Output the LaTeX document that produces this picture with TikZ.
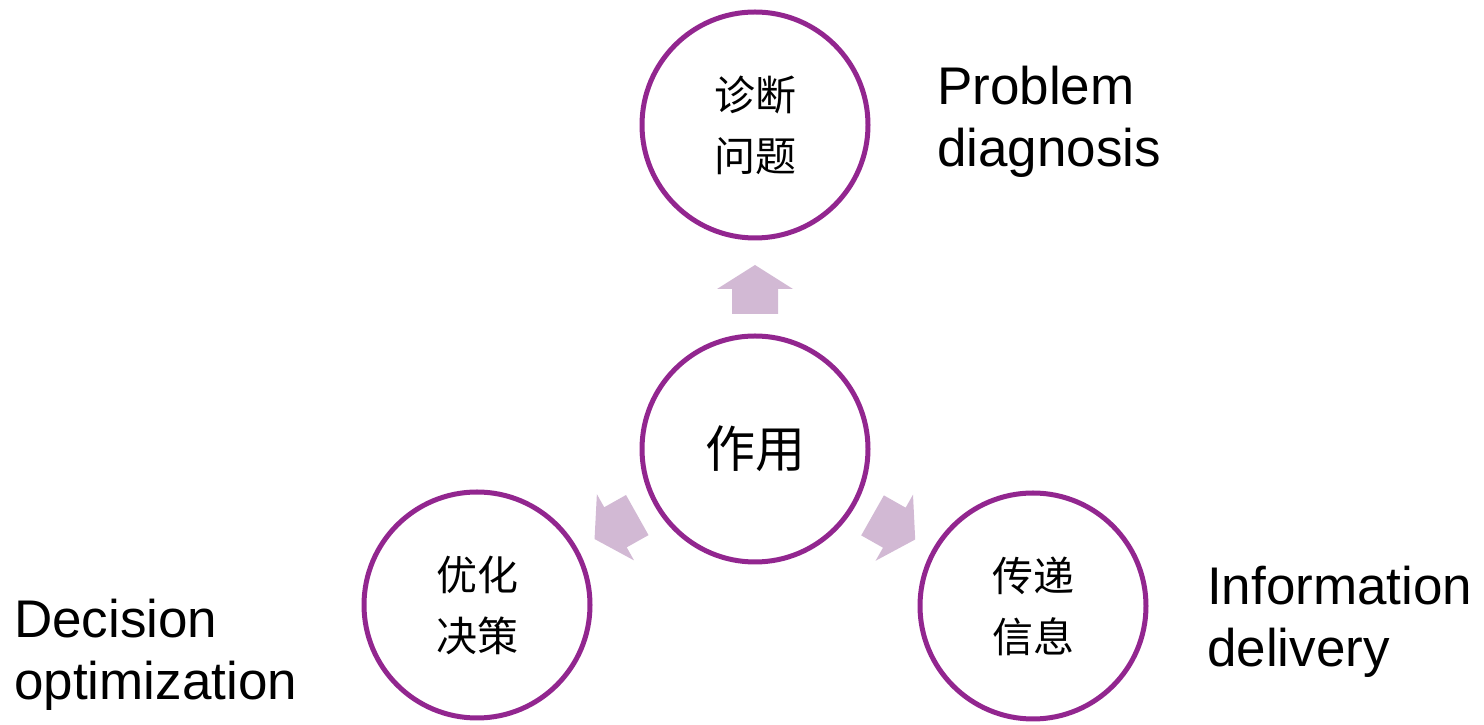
\documentclass[tikz,border=0pt]{standalone}
\usepackage{fontspec}
\setmainfont{Liberation Sans}
\newfontfamily\cjk{Noto Sans CJK SC}
\usetikzlibrary{calc}
\definecolor{ringpurple}{RGB}{146,38,143}
\definecolor{arrowlilac}{RGB}{210,185,212}
\begin{document}
\begin{tikzpicture}[x=1pt,y=1pt,
  ring/.style={circle, draw=ringpurple, line width=5pt, fill=white, minimum size=226pt,
    inner sep=0pt, align=center, font=\cjk\fontsize{41}{61}\selectfont},
  desc/.style={anchor=base west, align=left, inner sep=0pt, font=\fontsize{53}{62}\selectfont},
  blockarr/.pic={\fill[arrowlilac] (0,-23) -- (25,-23) -- (25,-38) -- (49,0) -- (25,38) -- (25,23) -- (0,23) -- cycle;}]
\useasboundingbox (0,0) rectangle (1484,725);
\node[ring] (top) at (755,600) {诊断\\问题};
\node[ring, font=\cjk\fontsize{50}{60}\selectfont] (mid) at (755,276) {作用};
\node[ring] (left) at (477,120) {优化\\决策};
\node[ring] (right) at (1033,119) {传递\\信息};
\pic[rotate=90] at ($(mid)!135pt!(top)$) {blockarr};
\pic[rotate=209.3] at ($(mid)!135pt!(left)$) {blockarr};
\pic[rotate=-29.5] at ($(mid)!135pt!(right)$) {blockarr};
\node[desc] (pd) at (937,558) {Problem\\diagnosis};
\node[desc] (do) at (14,25) {Decision\\optimization};
\node[desc] (id) at (1207,58) {Information\\delivery};
\end{tikzpicture}
\end{document}
